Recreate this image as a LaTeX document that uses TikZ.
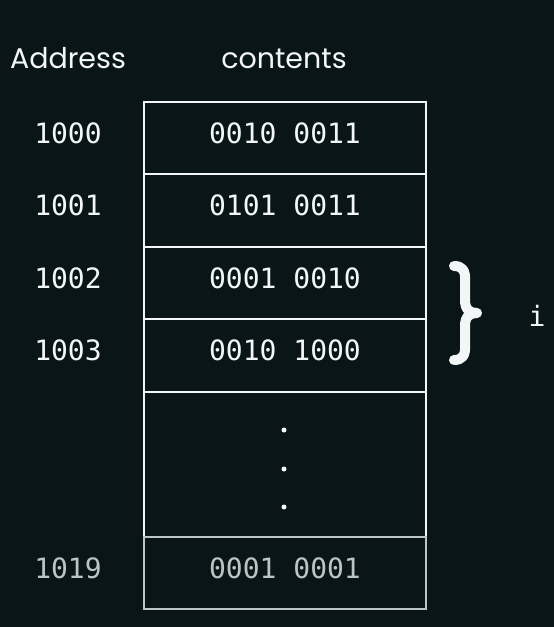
\documentclass[tikz,border=0pt]{standalone}
\usepackage{fontspec}
\setmainfont{Poppins}
\newfontfamily\monof{DejaVu Sans Mono}
\definecolor{bg}{HTML}{0A1517}
\definecolor{fg}{HTML}{F2F6F6}
\definecolor{dim}{HTML}{BCC4C4}
\newcommand{\lowtxt}[1]{\raisebox{-5.5pt}[0pt][0pt]{#1}}
\begin{document}
\begin{tikzpicture}[x=1pt,y=-1pt,
  hdr/.style={text=fg,font=\fontsize{28.5}{32}\selectfont,anchor=base,inner sep=0},
  addr/.style={text=fg,font=\monof\fontsize{28}{30}\selectfont,anchor=base,inner sep=0},
  cell/.style={draw=fg,line width=2pt,minimum width=282pt,minimum height=72.5pt,inner sep=0,anchor=north west,text=fg,font=\monof\fontsize{28}{30}\selectfont},
  dimcell/.style={cell,draw=dim,text=dim},
  dotm/.style={circle,fill=fg,inner sep=0,minimum size=5pt}]
\fill[bg] (0,0) rectangle (554,627);
\useasboundingbox (0,0) rectangle (554,627);
\node[hdr] (haddr) at (68,68) {Address};
\node[hdr] (hcont) at (284,68) {contents};
\node[cell] (c0) at (143,100.5) {\lowtxt{0010 0011}};
\node[cell] (c1) at (143,173) {\lowtxt{0101 0011}};
\node[cell] (c2) at (143,245.5) {\lowtxt{0001 0010}};
\node[cell] (c3) at (143,318) {\lowtxt{0010 1000}};
\node[cell,minimum height=145pt] (cd) at (143,390.5) {};
\node[dimcell] (c19) at (143,535.5) {\lowtxt{0001 0001}};
\node[addr] (a0) at ([yshift=-5.5pt]68,0 |- c0) {1000};
\node[addr] (a1) at ([yshift=-5.5pt]68,0 |- c1) {1001};
\node[addr] (a2) at ([yshift=-5.5pt]68,0 |- c2) {1002};
\node[addr] (a3) at ([yshift=-5.5pt]68,0 |- c3) {1003};
\node[addr,text=dim] (a19) at ([yshift=-5.5pt]68,0 |- c19) {1019};
\node[dotm] (d1) at (284,430) {};
\node[dotm] (d2) at (284,469) {};
\node[dotm] (d3) at (284,507) {};
\draw[fg,line width=10pt,line cap=round,line join=round]
  (454,266) .. controls (462,266) and (466,270) .. (465,282) -- (465,300)
  .. controls (465,310) and (470,313) .. (477,313)
  .. controls (470,313) and (465,316) .. (465,326) -- (465,344)
  .. controls (466,356) and (462,360) .. (454,360);
\node[addr] (ilab) at (537,326) {i};
\end{tikzpicture}
\end{document}
